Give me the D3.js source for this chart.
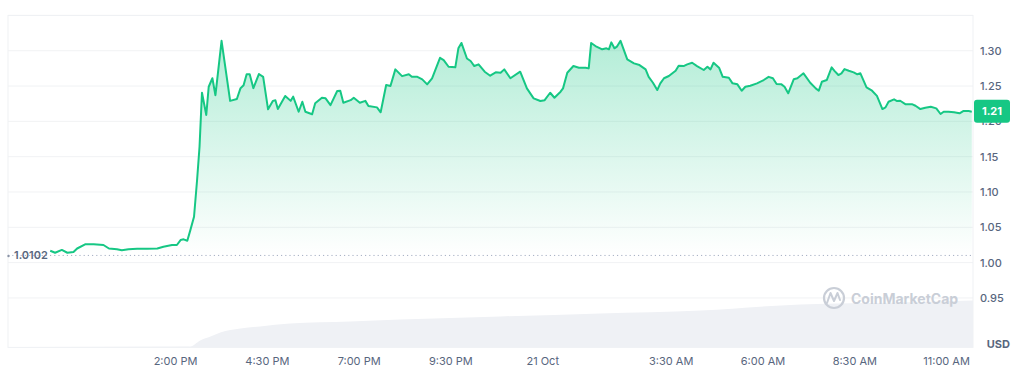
<!DOCTYPE html>
<html><head><meta charset="utf-8">
<script src="https://cdn.jsdelivr.net/npm/d3@7/dist/d3.min.js"></script>
<style>
html,body{margin:0;padding:0;background:#fff;}
svg{display:block;font-family:Inter,"Noto Sans",sans-serif;}
</style></head><body>
<svg id="c" width="1024" height="375"></svg>
<script>
// minutes since 20 Oct 00:00
const minutes = [636,644,655,664,674,680,693,707,723,732,745,753,764,778,794,811,821,835,843,849,854,860,865,871,876,880,884,891,895,901,906,916,930,941,947,952,957,962,968,977,984,992,1000,1004,1008,1020,1029,1033,1042,1048,1053,1064,1069,1080,1086,1094,1105,1110,1115,1127,1132,1142,1151,1156,1170,1176,1185,1192,1200,1211,1222,1227,1236,1244,1252,1260,1273,1279,1287,1298,1303,1308,1317,1323,1329,1336,1346,1355,1364,1372,1378,1388,1404,1415,1426,1437,1444,1453,1460,1470,1474,1481,1491,1500,1511,1516,1520,1527,1538,1545,1549,1553,1558,1562,1568,1579,1590,1599,1609,1614,1621,1628,1633,1639,1647,1658,1663,1671,1677,1685,1693,1704,1710,1715,1720,1729,1735,1745,1751,1759,1766,1772,1780,1791,1802,1810,1817,1823,1831,1836,1842,1851,1857,1867,1878,1887,1892,1897,1905,1913,1918,1924,1929,1934,1941,1949,1955,1960,1970,1979,1987,1996,2001,2006,2015,2020,2025,2034,2045,2050,2058,2066,2075,2084,2091,2096,2104,2113,2122,2128,2137,2142];
const prices = [1.0168,1.014,1.018,1.014,1.015,1.020,1.026,1.026,1.025,1.020,1.019,1.0174,1.019,1.0197,1.0197,1.020,1.0225,1.025,1.025,1.032,1.033,1.031,1.046,1.065,1.117,1.164,1.2405,1.209,1.249,1.261,1.237,1.314,1.229,1.2316,1.247,1.251,1.2666,1.2666,1.247,1.267,1.263,1.217,1.229,1.230,1.2174,1.236,1.229,1.235,1.2136,1.2278,1.2136,1.210,1.2255,1.2334,1.2326,1.223,1.243,1.2434,1.2264,1.230,1.2334,1.2264,1.229,1.2217,1.2198,1.2128,1.2514,1.25,1.2736,1.264,1.2666,1.263,1.263,1.2595,1.2524,1.261,1.290,1.2868,1.2773,1.2765,1.3034,1.311,1.289,1.2854,1.2783,1.2807,1.2703,1.2646,1.2694,1.2688,1.2736,1.261,1.2703,1.2467,1.2326,1.2288,1.230,1.2405,1.2334,1.242,1.2467,1.2688,1.2783,1.276,1.276,1.275,1.311,1.3066,1.302,1.3034,1.302,1.3118,1.3034,1.3057,1.314,1.2878,1.2821,1.2797,1.2736,1.263,1.2547,1.2443,1.2538,1.261,1.2642,1.2717,1.2787,1.2783,1.2807,1.283,1.2783,1.2727,1.2773,1.2736,1.283,1.276,1.263,1.2617,1.2538,1.2524,1.2434,1.249,1.2504,1.2538,1.2585,1.263,1.261,1.2528,1.2524,1.249,1.2397,1.2595,1.261,1.268,1.2547,1.2467,1.2434,1.256,1.2585,1.2765,1.2712,1.2656,1.268,1.274,1.2717,1.2694,1.2666,1.268,1.248,1.2434,1.236,1.2174,1.2198,1.2278,1.2312,1.2288,1.2292,1.2241,1.2241,1.2221,1.2174,1.2193,1.2207,1.2184,1.2104,1.2136,1.2136,1.2128,1.2114,1.2146,1.2146,1.2136];
const volMinutes = [568,865,881,898,914,947,979,1028,1126,1208,1372,1535,1699,1862,2025,2144];
const volumes = [0.5,1,7,11,15,19,21,24,26,28,31,34,37,43,45,47];
const xTickMinutes = [840,990,1140,1290,1440,1650,1800,1950,2100];
const xTickLabels = ["2:00 PM","4:30 PM","7:00 PM","9:30 PM","21 Oct","3:30 AM","6:00 AM","8:30 AM","11:00 AM"];
const yTicks = [0.95,1.00,1.05,1.10,1.15,1.20,1.25,1.30];
const gridTicks = [0.95,1.00,1.05,1.10,1.15,1.20,1.25,1.30,1.35];
const refPrice = 1.0102;
const refLabel = "1.0102";
const lastLabel = "1.21";
const unitLabel = "USD";
const brand = "CoinMarketCap";

const toDate = m => new Date(Date.UTC(2024, 9, 20, 0, m));
const data = minutes.map((m, i) => ({t: toDate(m), v: prices[i]}));
const vol = volMinutes.map((m, i) => ({t: toDate(m), v: volumes[i]}));

const L = 8, R = 973, T = 15.4, B = 347.4;
const x = d3.scaleUtc().domain([toDate(567.6), toDate(2144.6)]).range([L, R]);
const y = d3.scaleLinear().domain([0.88, 1.35]).range([B, T]);
const yv = d3.scaleLinear().domain([0, 50]).range([B, B - 50]);

const svg = d3.select("#c");
const defs = svg.append("defs");
const g = defs.append("linearGradient").attr("id", "fill").attr("gradientUnits", "userSpaceOnUse")
  .attr("x1", 0).attr("x2", 0).attr("y1", y(1.31)).attr("y2", y(refPrice));
g.append("stop").attr("offset", 0).attr("stop-color", "#16c784").attr("stop-opacity", 0.32);
g.append("stop").attr("offset", 1).attr("stop-color", "#16c784").attr("stop-opacity", 0.0);

// grid
svg.append("g").selectAll("line").data(gridTicks).join("line")
  .attr("x1", L).attr("x2", R).attr("y1", d => y(d)).attr("y2", d => y(d))
  .attr("stroke", "#f1f2f4").attr("stroke-width", 1);
// frame
svg.append("rect").attr("x", L).attr("y", T).attr("width", R - L).attr("height", B - T)
  .attr("fill", "none").attr("stroke", "#eff1f4").attr("stroke-width", 1);

// volume
svg.append("path").datum(vol)
  .attr("d", d3.area().x(d => x(d.t)).y0(B).y1(d => yv(d.v)).curve(d3.curveMonotoneX))
  .attr("fill", "#eff1f5");

// watermark
const wm = svg.append("g").attr("fill", "none").attr("stroke", "#c9ced7");
wm.append("circle").attr("cx", 834).attr("cy", 298).attr("r", 10).attr("stroke-width", 2.2);
wm.append("path").attr("d", "M827,303 L830.5,293 L834,301 L837.5,293 L840,300").attr("stroke-width", 2).attr("stroke-linejoin", "round").attr("stroke-linecap", "round");
svg.append("text").attr("x", 851).attr("y", 303.5).attr("fill", "#c9ced7")
  .attr("font-size", 14).attr("font-weight", 700).text(brand);

// area + line
svg.append("path").datum(data)
  .attr("d", d3.area().x(d => x(d.t)).y0(y(refPrice)).y1(d => y(d.v)))
  .attr("fill", "url(#fill)");

// reference line
svg.append("line").attr("x1", L).attr("x2", R).attr("y1", y(refPrice)).attr("y2", y(refPrice))
  .attr("stroke", "#a6b0c3").attr("stroke-width", 1).attr("stroke-dasharray", "1.2,3");

svg.append("path").datum(data)
  .attr("d", d3.line().x(d => x(d.t)).y(d => y(d.v)))
  .attr("fill", "none").attr("stroke", "#16c784").attr("stroke-width", 2).attr("stroke-linejoin", "round");

// ref label
svg.append("circle").attr("cx", 8.5).attr("cy", y(refPrice) + 0.5).attr("r", 1.2).attr("fill", "#8a93a6");
svg.append("text").attr("x", 14).attr("y", y(refPrice)).attr("dy", "0.35em")
  .attr("fill", "#58667e").attr("font-size", 11).attr("font-weight", 600).text(refLabel);

// axes
const xa = svg.append("g").attr("transform", `translate(0,${B})`)
  .call(d3.axisBottom(x).tickValues(xTickMinutes.map(toDate)).tickSize(0).tickPadding(10)
    .tickFormat((d, i) => xTickLabels[i]));
xa.select(".domain").remove();
xa.selectAll("text").attr("fill", "#58667e").attr("font-size", 11).attr("font-family", "Inter,'Noto Sans',sans-serif");

const ya = svg.append("g").attr("transform", `translate(${R},0)`)
  .call(d3.axisRight(y).tickValues(yTicks).tickSize(0).tickPadding(7).tickFormat(d3.format(".2f")));
ya.select(".domain").remove();
ya.selectAll("text").attr("fill", "#58667e").attr("font-size", 11).attr("font-weight", 500).attr("font-family", "Inter,'Noto Sans',sans-serif");

svg.append("text").attr("x", 1010).attr("y", 344).attr("dy", "0.35em").attr("text-anchor", "end")
  .attr("fill", "#58667e").attr("font-size", 11).attr("font-weight", 700).text(unitLabel);

// last price tag
const lastV = prices[prices.length - 1];
svg.append("rect").attr("x", 974).attr("y", y(lastV) - 12).attr("width", 36).attr("height", 23).attr("rx", 3)
  .attr("fill", "#16c784");
svg.append("text").attr("x", 992).attr("y", y(lastV) - 0.5).attr("dy", "0.35em").attr("text-anchor", "middle")
  .attr("fill", "#fff").attr("font-size", 11).attr("font-weight", 700).text(lastLabel);
</script>
</body></html>
